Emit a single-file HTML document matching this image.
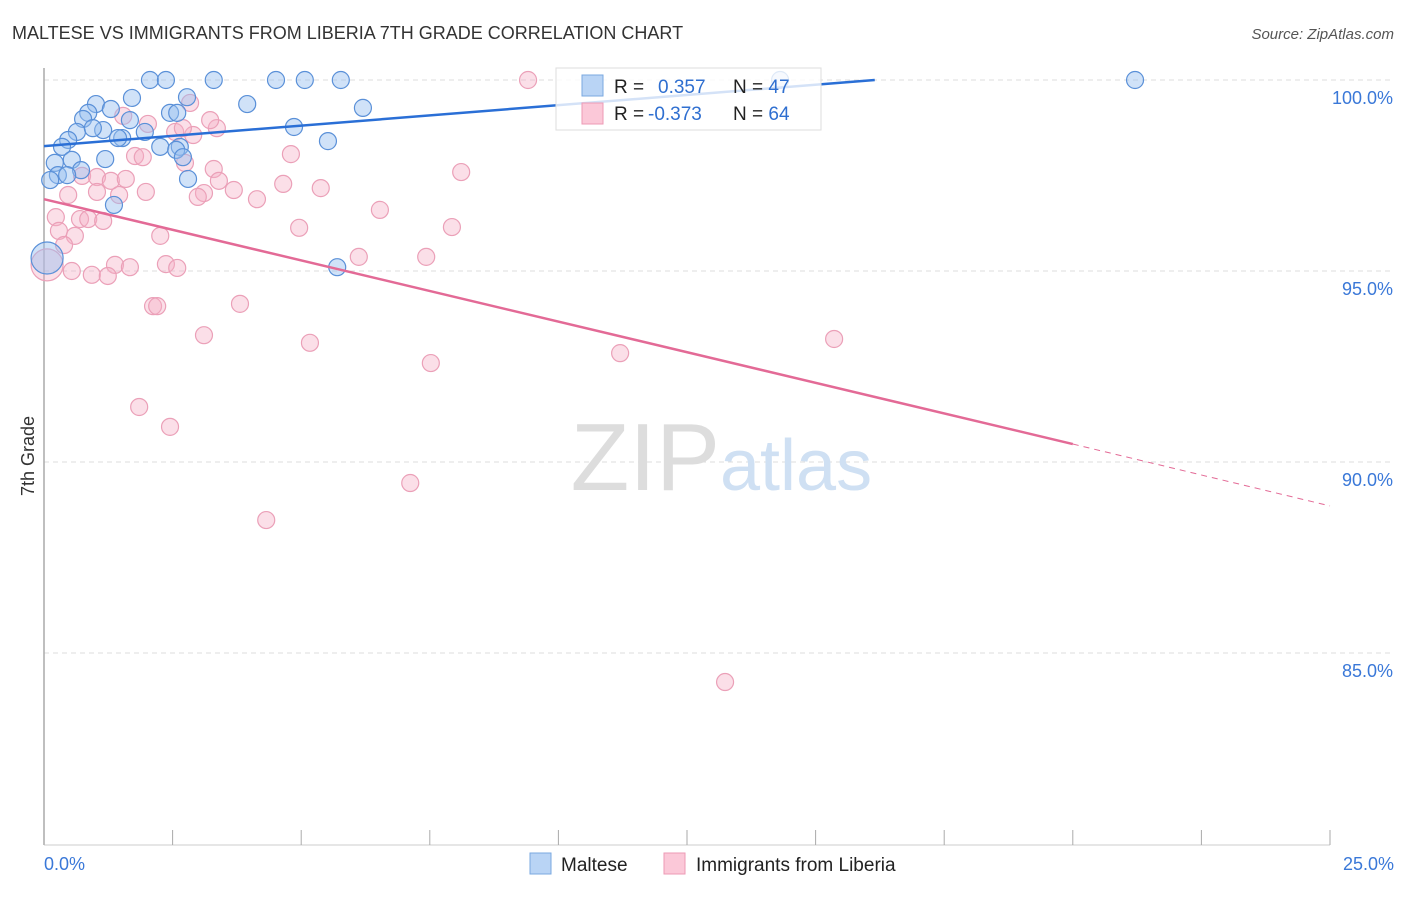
<!DOCTYPE html>
<html><head><meta charset="utf-8"><style>
body{margin:0;background:#fff;font-family:"Liberation Sans",sans-serif;}
svg text{font-family:"Liberation Sans",sans-serif;}
</style></head><body>
<svg id="chart" width="1406" height="892">
<text x="12" y="39" font-size="18" fill="#333">MALTESE VS IMMIGRANTS FROM LIBERIA 7TH GRADE CORRELATION CHART</text>
<text x="1394" y="39" font-size="15" fill="#555" font-style="italic" text-anchor="end">Source: ZipAtlas.com</text>
<text transform="translate(34,456) rotate(-90)" font-size="18" fill="#333" text-anchor="middle">7th Grade</text>
<g id="grid"></g>
<text x="720" y="490" font-size="96" fill="#ddd" text-anchor="end" font-family="Liberation Serif">ZIP</text>
<text x="720" y="490" font-size="72" fill="#cfe0f3">atlas</text>
<g id="pts"></g>
<g id="lines"></g>
<g>
<rect x="556" y="68" width="265" height="62" fill="#fff" fill-opacity="0.8" stroke="#ddd"/>
<rect x="582" y="75" width="21" height="21" fill="#b9d4f5" stroke="#7aa8e0"/>
<rect x="582" y="103" width="21" height="21" fill="#fbc8d8" stroke="#ec9ab5"/>
<text x="614" y="93" font-size="19" fill="#222">R = <tspan x="658" fill="#2f6fd0">0.357</tspan><tspan x="733" fill="#222">N = </tspan><tspan fill="#2f6fd0">47</tspan></text>
<text x="614" y="120" font-size="19" fill="#222">R = <tspan x="648" fill="#2f6fd0">-0.373</tspan><tspan x="733" fill="#222">N = </tspan><tspan fill="#2f6fd0">64</tspan></text>
</g>
<g>
<rect x="530" y="853" width="21" height="21" fill="#b9d4f5" stroke="#7aa8e0"/>
<text x="561" y="871" font-size="19" fill="#222">Maltese</text>
<rect x="664" y="853" width="21" height="21" fill="#fbc8d8" stroke="#ec9ab5"/>
<text x="696" y="871" font-size="19" fill="#222">Immigrants from Liberia</text>
</g>
</svg>
<script>
const yTicks=[100,95,90,85];
const xTickCount=10;
const blueX=[2.06,2.37,3.30,4.51,5.07,5.77,21.21,14.31,1.71,2.78,1.01,3.95,6.20,0.86,2.45,2.59,1.30,0.76,1.67,1.96,0.64,0.47,1.52,1.44,1.15,0.95,4.86,5.52,0.35,2.26,2.64,2.57,0.54,1.19,2.70,0.21,0.72,0.27,0.45,0.12,2.80,1.36,5.70,0.06];
const blueY=[100,100,100,100,100,100,100,100,99.53,99.55,99.37,99.37,99.27,99.14,99.14,99.14,99.24,98.98,98.95,98.64,98.64,98.43,98.48,98.48,98.69,98.74,98.77,98.40,98.25,98.25,98.25,98.17,97.91,97.93,97.98,97.83,97.64,97.51,97.51,97.38,97.41,96.73,95.10,95.34];
const pinkX=[9.41,2.84,1.54,2.02,3.36,2.55,2.90,2.70,0.74,1.77,1.92,4.80,2.74,3.30,8.11,1.03,1.30,1.59,3.40,4.65,5.38,3.69,1.03,1.98,3.11,1.46,2.99,4.14,6.53,0.23,0.70,0.86,1.15,7.93,4.96,0.29,0.60,2.26,0.39,6.12,7.43,0.06,2.37,2.59,1.38,1.67,0.54,0.93,1.24,2.12,2.20,3.81,3.11,5.17,7.52,11.20,15.36,1.85,2.45,7.12,4.32,13.24,0.47,3.23];
const pinkY=[100,99.40,99.06,98.85,98.74,98.64,98.56,98.74,97.49,98.01,97.98,98.06,97.83,97.67,97.59,97.46,97.36,97.41,97.36,97.28,97.17,97.12,97.07,97.07,97.04,96.99,96.94,96.88,96.60,96.41,96.36,96.36,96.31,96.15,96.13,96.05,95.92,95.92,95.68,95.37,95.37,95.16,95.18,95.08,95.16,95.10,95.00,94.90,94.87,94.08,94.08,94.14,93.32,93.12,92.59,92.85,93.22,91.44,90.92,89.45,88.48,84.24,96.99,98.95];
const blueBigIdx=43, pinkBigIdx=41;
const blueLine=[[0,98.27],[16.15,100]];
const pinkLine=[[0,96.88],[20,90.47],[25,88.85]];
const NS="http://www.w3.org/2000/svg";
const X0=44,X1=1330;
function sx(v){return X0+(X1-X0)*v/25;}
function sy(v){return 80+(100-v)*38.2;}
function mk(tag,attrs,parent){const e=document.createElementNS(NS,tag);for(const k in attrs)e.setAttribute(k,attrs[k]);parent.appendChild(e);return e;}
const grid=document.getElementById('grid');
yTicks.forEach(t=>{
  const l=mk('line',{x1:X0,x2:1392,y1:sy(t),y2:sy(t),stroke:'#ddd','stroke-dasharray':'5,4'},grid);
  
  
  const tx=mk('text',{x:1393,y:sy(t)+24,'font-size':18,fill:'#3a78d8','text-anchor':'end'},grid);
  tx.textContent=t.toFixed(1)+'%';
  
  
});
const ax=mk('line',{x1:X0,x2:X0,y1:68,y2:845,stroke:'#aaa','stroke-width':1.5},grid);


const bx=mk('line',{x1:X0,x2:X1,y1:845,y2:845,stroke:'#ccc','stroke-width':1},grid);


for(let i=0;i<=xTickCount;i++){
  const t=mk('line',{x1:sx(i*25/xTickCount),x2:sx(i*25/xTickCount),y1:830,y2:845,stroke:'#aaa'},grid);
  
  
}
const xl0=mk('text',{x:44,y:870,'font-size':18,fill:'#3a78d8'},grid);xl0.textContent='0.0%';


const xl1=mk('text',{x:1394,y:870,'font-size':18,fill:'#3a78d8','text-anchor':'end'},grid);xl1.textContent='25.0%';


const pts=document.getElementById('pts');
pinkX.forEach((x,i)=>{
  const c=mk('circle',{cx:sx(x),cy:sy(pinkY[i]),r:i===pinkBigIdx?16:8.5,fill:'rgba(246,176,198,0.4)',stroke:'#eba0b8','stroke-width':1.2},pts);
  
  
});
blueX.forEach((x,i)=>{
  const c=mk('circle',{cx:sx(x),cy:sy(blueY[i]),r:i===blueBigIdx?16:8.5,fill:'rgba(150,190,240,0.45)',stroke:'#5a90d8','stroke-width':1.2},pts);
  
  
});
const lines=document.getElementById('lines');
const bl=mk('line',{x1:sx(blueLine[0][0]),y1:sy(blueLine[0][1]),x2:sx(blueLine[1][0]),y2:sy(blueLine[1][1]),stroke:'#2a6fd6','stroke-width':2.5},lines);


const pl=mk('line',{x1:sx(pinkLine[0][0]),y1:sy(pinkLine[0][1]),x2:sx(pinkLine[1][0]),y2:sy(pinkLine[1][1]),stroke:'#e36a96','stroke-width':2.5},lines);


const pd=mk('line',{x1:sx(pinkLine[1][0]),y1:sy(pinkLine[1][1]),x2:sx(pinkLine[2][0]),y2:sy(pinkLine[2][1]),stroke:'#e36a96','stroke-width':1,'stroke-dasharray':'6,5'},lines);


</script>
</body></html>
